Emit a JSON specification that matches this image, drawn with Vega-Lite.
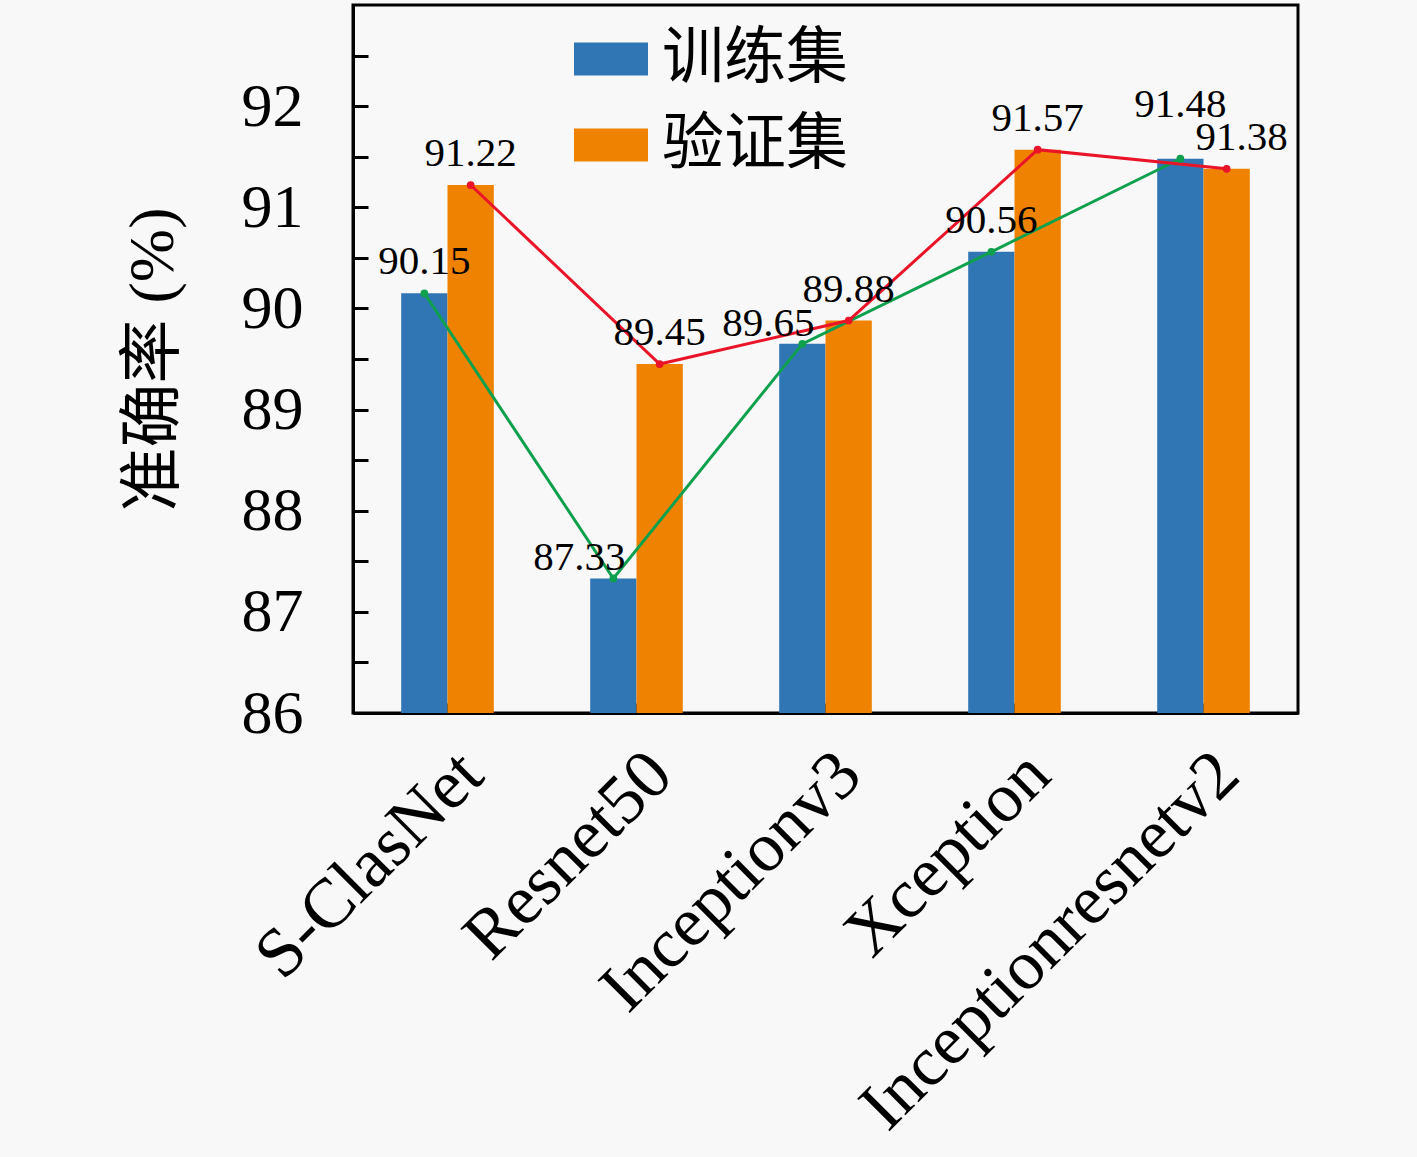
{
  "$schema": "https://vega.github.io/schema/vega-lite/v6.json",
  "width": 945,
  "height": 708,
  "autosize": {"type": "none"},
  "padding": {"left": 353, "top": 5, "right": 119, "bottom": 444},
  "background": "#f8f8f8",
  "config": {
    "view": {"stroke": "#000000", "strokeWidth": 3, "fill": "#f8f8f8"},
    "font": "Liberation Serif, Noto Sans CJK SC"
  },
  "data": {
    "values": [
      {"model": "S-ClasNet", "set": "训练集", "value": 90.15},
      {"model": "S-ClasNet", "set": "验证集", "value": 91.22},
      {"model": "Resnet50", "set": "训练集", "value": 87.33},
      {"model": "Resnet50", "set": "验证集", "value": 89.45},
      {"model": "Inceptionv3", "set": "训练集", "value": 89.65},
      {"model": "Inceptionv3", "set": "验证集", "value": 89.88},
      {"model": "Xception", "set": "训练集", "value": 90.56},
      {"model": "Xception", "set": "验证集", "value": 91.57},
      {"model": "Inceptionresnetv2", "set": "训练集", "value": 91.48},
      {"model": "Inceptionresnetv2", "set": "验证集", "value": 91.38}
    ]
  },
  "encoding": {
    "x": {
      "field": "model",
      "type": "nominal",
      "sort": null,
      "scale": {"paddingInner": 0.51, "paddingOuter": 0.255},
      "axis": {
        "title": null,
        "labelAngle": -45,
        "labelFont": "Liberation Serif",
        "labelFontSize": 70,
        "labelColor": "#000000",
        "labelPadding": 36,
        "labelLimit": 800,
        "tickSize": -10,
        "tickWidth": 3,
        "tickColor": "#000000",
        "domainColor": "#000000",
        "domainWidth": 3
      }
    },
    "xOffset": {"field": "set", "type": "nominal", "sort": ["训练集", "验证集"]},
    "y": {
      "field": "value",
      "type": "quantitative",
      "scale": {"domain": [86, 93], "nice": false, "zero": false},
      "axis": {
        "title": "准确率 (%)",
        "titleFontSize": 64,
        "titleFontWeight": "normal",
        "titleColor": "#000000",
        "titlePadding": 56,
        "values": [86, 86.5, 87, 87.5, 88, 88.5, 89, 89.5, 90, 90.5, 91, 91.5, 92, 92.5],
        "labelExpr": "datum.value % 1 == 0 ? format(datum.value, 'd') : ''",
        "labelFont": "Liberation Serif",
        "labelFontSize": 62,
        "labelColor": "#000000",
        "labelPadding": 65,
        "tickSize": -15,
        "tickWidth": 3,
        "tickColor": "#000000",
        "domainColor": "#000000",
        "domainWidth": 3,
        "grid": false
      }
    }
  },
  "layer": [
    {
      "mark": {"type": "bar", "clip": true},
      "encoding": {
        "color": {
          "field": "set",
          "type": "nominal",
          "sort": ["训练集", "验证集"],
          "scale": {"domain": ["训练集", "验证集"], "range": ["#3076b5", "#ef8200"]},
          "legend": {
            "title": null,
            "orient": "none",
            "legendX": 221,
            "legendY": 17,
            "symbolType": "M-1,-0.446H1V0.446H-1Z",
            "symbolSize": 5476,
            "symbolStrokeWidth": 0,
            "symbolOpacity": 1,
            "labelFont": "Noto Sans CJK SC",
            "labelFontSize": 62,
            "labelColor": "#000000",
            "labelOffset": 14,
            "rowPadding": 18,
            "labelLimit": 400
          }
        }
      }
    },
    {
      "mark": {"type": "line", "strokeWidth": 3},
      "encoding": {
        "color": {
          "field": "set",
          "type": "nominal",
          "scale": {"domain": ["训练集", "验证集"], "range": ["#0fa04e", "#ea1429"]},
          "legend": null
        }
      }
    },
    {
      "mark": {"type": "point", "filled": true, "size": 60, "opacity": 1},
      "encoding": {
        "color": {
          "field": "set",
          "type": "nominal",
          "scale": {"domain": ["训练集", "验证集"], "range": ["#0fa04e", "#ea1429"]},
          "legend": null
        }
      }
    },
    {
      "mark": {
        "type": "text",
        "baseline": "alphabetic",
        "fontSize": 41,
        "font": "Liberation Serif",
        "color": "#000000",
        "dx": {"expr": "datum.value == 87.33 || datum.value == 89.65 ? -34 : datum.value == 91.38 ? 15 : 0"},
        "dy": {"expr": "datum.value == 87.33 || datum.value == 89.65 ? -8 : datum.value == 91.48 ? -42 : -19"}
      },
      "encoding": {
        "text": {"field": "value", "type": "quantitative", "format": ".2f"}
      }
    }
  ],
  "resolve": {"scale": {"color": "independent"}}
}
